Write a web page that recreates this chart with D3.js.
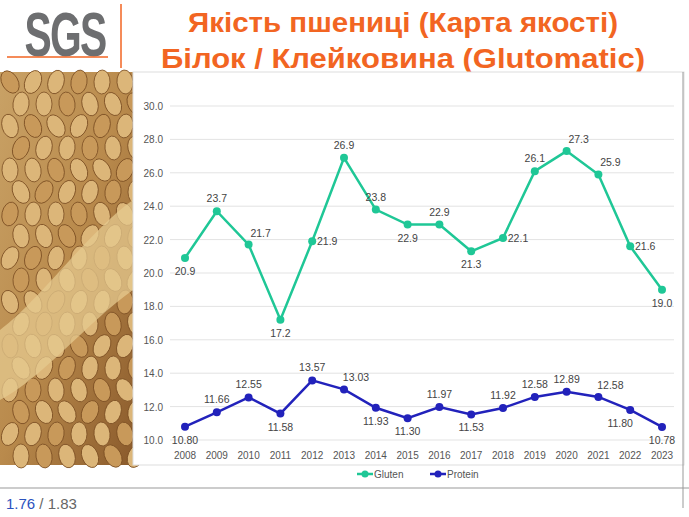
<!DOCTYPE html>
<html><head><meta charset="utf-8">
<script src="https://cdn.jsdelivr.net/npm/d3@7"></script>
<style>body{margin:0;background:#fff;font-family:Arial,"Liberation Sans",sans-serif}</style>
</head><body><svg id="c" width="689" height="517"></svg>
<script>
const years = ['2008','2009','2010','2011','2012','2013','2014','2015','2016','2017','2018','2019','2020','2021','2022','2023'];
const gluten = [20.9,23.7,21.7,17.2,21.9,26.9,23.8,22.9,22.9,21.3,22.1,26.1,27.3,25.9,21.6,19.0];
const protein = [10.80,11.66,12.55,11.58,13.57,13.03,11.93,11.30,11.97,11.53,11.92,12.58,12.89,12.58,11.80,10.78];
const yTicks = [10,12,14,16,18,20,22,24,26,28,30];
// label placement: a=above, b=below, r=right, ar=above-right, bl=below-left
const gPos = ['b','a','ar','b','r','a','a','b','a','b','r','a','ar','ar','r','b'];
const pPos = ['b','a','a','b','a','ar','b','b','a','b','a','a','a','ar','bl','b'];

const svg = d3.select('#c');
// header
svg.append('text').attr('transform','translate(65,56) scale(0.85,1.3)').attr('text-anchor','middle')
  .attr('font-size',48).attr('font-weight','bold').attr('fill','#6d6e70').attr('letter-spacing',-2).text('SGS');
svg.append('line').attr('x1',7).attr('x2',108).attr('y1',57).attr('y2',57).attr('stroke','#f26522').attr('stroke-width',1.5);
svg.append('line').attr('x1',121).attr('x2',121).attr('y1',4).attr('y2',68).attr('stroke','#f26522').attr('stroke-width',1.5);
svg.append('text').attr('x',403).attr('y',32).attr('text-anchor','middle').attr('font-size',28)
  .attr('font-weight','bold').attr('fill','#f26522').attr('textLength',430).attr('lengthAdjust','spacingAndGlyphs').text('Якість пшениці (Карта якості)');
svg.append('text').attr('x',403).attr('y',68).attr('text-anchor','middle').attr('font-size',28)
  .attr('font-weight','bold').attr('fill','#f26522').attr('textLength',484).attr('lengthAdjust','spacingAndGlyphs').text('Білок / Клейковина (Glutomatic)');

// wheat-like panel
const defs = svg.append('defs');
const gr = defs.append('linearGradient').attr('id','wg').attr('x1',0).attr('x2',1).attr('y1',0).attr('y2',1);
gr.append('stop').attr('offset','0').attr('stop-color','#c9a266');
gr.append('stop').attr('offset','0.5').attr('stop-color','#b98a4c');
gr.append('stop').attr('offset','1').attr('stop-color','#8a5a2b');
svg.append('rect').attr('x',0).attr('y',72).attr('width',133).attr('height',393).attr('fill','url(#wg)');
const grains = svg.append('g');
for (let r = 0; r < 18; r++) for (let c = 0; c < 6; c++) {
  const cx = 10 + c*23 + (r%2)*11, cy = 82 + r*22;
  grains.append('ellipse').attr('cx',cx).attr('cy',cy).attr('rx',8).attr('ry',12)
    .attr('transform',`rotate(${(r*37+c*53)%60-30},${cx},${cy})`)
    .attr('fill',(r+c)%3 ? '#dcb679' : '#c8995a').attr('stroke','#7a4d22').attr('stroke-width',0.8);
}
svg.append('path').attr('d','M0,330 C40,300 90,230 133,200 L133,290 C90,320 40,380 0,400Z')
  .attr('fill','#e6c98f').attr('opacity',0.75);

// chart box
svg.append('rect').attr('x',133).attr('y',72).attr('width',551).attr('height',393).attr('fill','#fff').attr('stroke','#ddd');
svg.append('line').attr('x1',0).attr('x2',689).attr('y1',488).attr('y2',488).attr('stroke','#999');
svg.append('line').attr('x1',683).attr('x2',683).attr('y1',72).attr('y2',508).attr('stroke','#999');

const x = d3.scalePoint().domain(years).range([185,662]);
const y = d3.scaleLinear().domain([10,30]).range([440,106]);

const grid = svg.append('g');
grid.selectAll('line').data(yTicks).join('line').attr('x1',170).attr('x2',674)
  .attr('y1',d=>y(d)).attr('y2',d=>y(d)).attr('stroke','#e3e3e3');
grid.selectAll('text').data(yTicks).join('text').attr('x',163).attr('y',d=>y(d)+4)
  .attr('text-anchor','end').attr('font-size',10).attr('fill','#555').text(d=>d.toFixed(1));
svg.append('g').selectAll('text').data(years).join('text').attr('x',d=>x(d)).attr('y',459)
  .attr('text-anchor','middle').attr('font-size',10).attr('fill','#555').text(d=>d);

function series(vals, pos, color, fmt) {
  const line = d3.line().x((d,i)=>x(years[i])).y(d=>y(d));
  svg.append('path').datum(vals).attr('d',line).attr('fill','none').attr('stroke',color).attr('stroke-width',2.5);
  svg.append('g').selectAll('circle').data(vals).join('circle').attr('cx',(d,i)=>x(years[i])).attr('cy',d=>y(d))
    .attr('r',4).attr('fill',color);
  const off = {a:[0,-9],b:[0,17],r:[15,4],ar:[12,-8],bl:[-10,17]};
  svg.append('g').selectAll('text').data(vals).join('text')
    .attr('x',(d,i)=>x(years[i])+off[pos[i]][0]).attr('y',(d,i)=>y(d)+off[pos[i]][1])
    .attr('text-anchor','middle').attr('font-size',10.5).attr('fill','#444').text(fmt);
}
series(gluten, gPos, '#1fc796', d=>d.toFixed(1));
series(protein, pPos, '#2222bb', d=>d.toFixed(2));

// legend
const leg = [{n:'Gluten',c:'#1fc796',x:370},{n:'Protein',c:'#2222bb',x:443}];
const lg = svg.append('g').selectAll('g').data(leg).join('g');
lg.append('line').attr('x1',d=>d.x-13).attr('x2',d=>d.x+3).attr('y1',474).attr('y2',474).attr('stroke',d=>d.c).attr('stroke-width',2.5);
lg.append('circle').attr('cx',d=>d.x-5).attr('cy',474).attr('r',3.5).attr('fill',d=>d.c);
lg.append('text').attr('x',d=>d.x+4).attr('y',478).attr('font-size',10).attr('fill','#555').text(d=>d.n);

// footer
const ft = svg.append('text').attr('x',6).attr('y',509).attr('font-size',15);
ft.append('tspan').attr('fill','#2a52be').text('1.76');
ft.append('tspan').attr('fill','#666').text(' / 1.83');
</script></body></html>
